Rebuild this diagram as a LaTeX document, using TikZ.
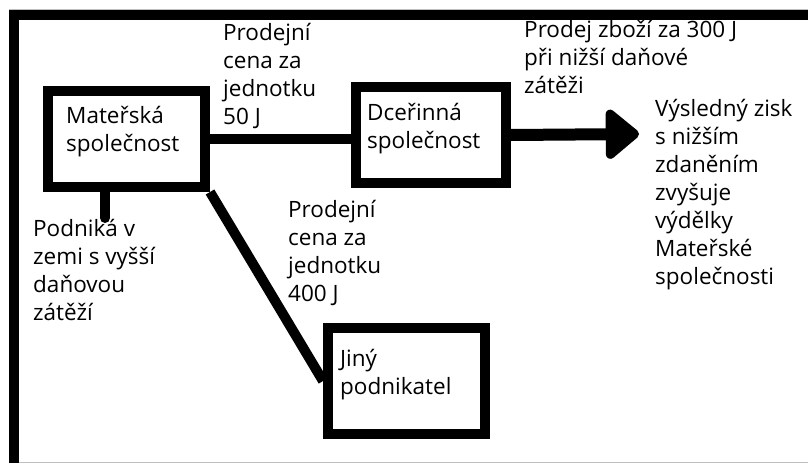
\documentclass[tikz,border=0pt]{standalone}
\usepackage{fontspec}
\setmainfont{Open Sans}
\usetikzlibrary{arrows.meta,calc}
\tikzset{
	firma/.style={draw, line width=10pt, minimum width=157pt, minimum height=96pt, inner sep=0pt},
	popis/.style={anchor=base west, align=left, inner sep=0pt, font=\fontsize{22.5}{28}\selectfont},
}

\begin{document}
\begin{tikzpicture}[x=1pt, y=-1pt]
			%%%%% START %%%%%
			\useasboundingbox (0, 0) rectangle (808, 463);
			
			\draw[line width=1pt, color=black!25] (9, 9.5) -- (808, 9.5);
			\draw[line width=1pt, color=black!25] (19, 462) -- (808, 462);
			\draw[line width=10pt] (14, 463) -- (14, 15) -- (808, 15);
			
			\node[firma] (mat) at (126.5, 139) {};
			\node[firma, minimum width=150pt] (dce) at (431, 135) {};
			\node[firma, minimum height=106pt] (jin) at (406.5, 381) {};
			
			% base = baseline of the last line
			\node[popis] (matT) at (66, 151) {Mateřská\\společnost};
			\node[popis] (dceT) at (367, 148) {Dceřinná\\společnost};
			\node[popis] (jinT) at (340, 394) {Jiný\\podnikatel};
			
			\node[popis] (cena50) at (223, 124) {Prodejní\\cena za\\jednotku\\50 J};
			\node[popis] (cena400) at (288, 301) {Prodejní\\cena za\\jednotku\\400 J};
			\node[popis] (prodej) at (524, 93) {Prodej zboží za 300 J\\při nižší daňové\\zátěži};
			\node[popis] (zisk) at (655, 284.5) {Výsledný zisk\\s nižším\\zdaněním\\zvyšuje\\výdělky\\Mateřské\\společnosti};
			\node[popis] (zeme) at (33, 320) {Podniká v\\zemi s vyšší\\daňovou\\zátěží};
			
			\coordinate (hrot) at (639, 134);
			\coordinate (pata) at (105, 218);
			
			\draw[line width=10pt] (mat.east) -- (mat.east -| dce.west);
			\draw[line width=10pt] (mat.south east) -- (jin.west);
			\draw[line width=10pt, line cap=round] (pata |- mat.south) -- (pata);
			\draw[line width=12pt, -{Triangle[length=36pt, width=57pt, round]}] (dce.east) -- (hrot);
			
			%%%%% END %%%%%
\end{tikzpicture}
\end{document}
